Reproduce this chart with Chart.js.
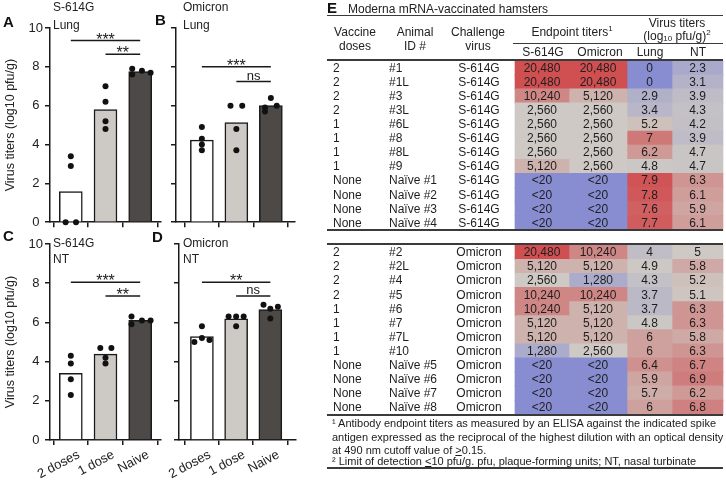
<!DOCTYPE html>
<html>
<head>
<meta charset="utf-8">
<script src="https://cdn.jsdelivr.net/npm/chart.js@4.4.1/dist/chart.umd.min.js"></script>
<style>
  body { margin: 0; width: 726px; height: 483px; position: relative; background: #fff; overflow: hidden;
         font-family: "Liberation Sans", Arial, sans-serif; color: #222; }
  canvas { position: absolute; }
  .t { position: absolute; font-size: 12px; line-height: 14px; white-space: nowrap; }
  .c { transform: translateX(-50%); text-align: center; }
  .lt { position: absolute; font-size: 15px; line-height: 16px; font-weight: bold; color: #111; }
  .rule { position: absolute; background: #3a3a3a; }
  .fn { position: absolute; left: 332px; font-size: 11px; line-height: 13px; white-space: nowrap; color: #1a1a1a; }
  .sm { font-size: 8px; position: relative; }
</style>
</head>
<body>
<canvas id="tableE" width="426" height="483" style="left:300px;top:0"></canvas>
<canvas id="chartA" width="165" height="232" style="left:0;top:0"></canvas>
<canvas id="chartB" width="140" height="232" style="left:160px;top:0"></canvas>
<canvas id="chartC" width="165" height="253" style="left:0;top:230px"></canvas>
<canvas id="chartD" width="140" height="253" style="left:160px;top:230px"></canvas>

<div class="lt" style="left:3px;top:14px">A</div>
<div class="t" style="left:53px;top:0">S-614G</div>
<div class="t" style="left:53px;top:18px">Lung</div>
<div class="lt" style="left:155px;top:12px">B</div>
<div class="t" style="left:183px;top:0">Omicron</div>
<div class="t" style="left:183px;top:18px">Lung</div>
<div class="lt" style="left:3px;top:228px">C</div>
<div class="t" style="left:53px;top:236px">S-614G</div>
<div class="t" style="left:53px;top:252px">NT</div>
<div class="lt" style="left:152px;top:229px">D</div>
<div class="t" style="left:183px;top:236px">Omicron</div>
<div class="t" style="left:183px;top:252px">NT</div>

<div class="lt" style="left:327px;top:0">E</div>
<div class="t" style="left:348px;top:2px">Moderna mRNA-vaccinated hamsters</div>
<div class="rule" style="left:327px;top:15px;width:396px;height:1px"></div>
<div class="t c" style="left:355px;top:25px">Vaccine<br>doses</div>
<div class="t c" style="left:415px;top:25px">Animal<br>ID #</div>
<div class="t c" style="left:478px;top:25px">Challenge<br>virus</div>
<div class="t c" style="left:572px;top:25px">Endpoint titers<span class="sm" style="top:-5px">1</span></div>
<div class="t c" style="left:677px;top:16px">Virus titers</div>
<div class="t c" style="left:677px;top:29px">(log<span class="sm" style="top:1px">10</span> pfu/g)<span class="sm" style="top:-5px">2</span></div>
<div class="rule" style="left:513px;top:43px;width:210px;height:1px"></div>
<div class="t c" style="left:543px;top:45px">S-614G</div>
<div class="t c" style="left:600px;top:45px">Omicron</div>
<div class="t c" style="left:650px;top:45px">Lung</div>
<div class="t c" style="left:698px;top:45px">NT</div>
<div class="rule" style="left:327px;top:59px;width:396px;height:2px"></div>
<div class="rule" style="left:327px;top:229px;width:396px;height:2px"></div>
<div class="rule" style="left:327px;top:243px;width:396px;height:2px"></div>
<div class="rule" style="left:327px;top:414px;width:396px;height:2px"></div>
<div class="fn" style="top:417px">¹ Antibody endpoint titers as measured by an ELISA against the indicated spike</div>
<div class="fn" style="top:431px">antigen expressed as the reciprocal of the highest dilution with an optical density</div>
<div class="fn" style="top:444px">at 490 nm cutoff value of <u>&gt;</u>0.15.</div>
<div class="fn" style="top:455px">² Limit of detection <u>&lt;</u>10 pfu/g. pfu, plaque-forming units; NT, nasal turbinate</div>
<div class="rule" style="left:327px;top:467px;width:396px;height:1.5px"></div>

<script>
const groups = ['2 doses', '1 dose', 'Naive'];

// table E, one entry per hamster (first 12 S-614G challenge, last 12 Omicron)
const doses = ['2', '2', '2', '2', '1', '1', '1', '1', 'None', 'None', 'None', 'None',
               '2', '2', '2', '2', '1', '1', '1', '1', 'None', 'None', 'None', 'None'];
const animalIds = ['#1', '#1L', '#3', '#3L', '#6L', '#8', '#8L', '#9', 'Naïve #1', 'Naïve #2', 'Naïve #3', 'Naïve #4',
                   '#2', '#2L', '#4', '#5', '#6', '#7', '#7L', '#10', 'Naïve #5', 'Naïve #6', 'Naïve #7', 'Naïve #8'];
const challenge = ['S-614G', 'S-614G', 'S-614G', 'S-614G', 'S-614G', 'S-614G', 'S-614G', 'S-614G', 'S-614G', 'S-614G', 'S-614G', 'S-614G',
                   'Omicron', 'Omicron', 'Omicron', 'Omicron', 'Omicron', 'Omicron', 'Omicron', 'Omicron', 'Omicron', 'Omicron', 'Omicron', 'Omicron'];
// null = below detection (<20)
const titerS614G = [20480, 20480, 10240, 2560, 2560, 2560, 2560, 5120, null, null, null, null,
                    20480, 5120, 2560, 10240, 10240, 5120, 5120, 1280, null, null, null, null];
const titerOmicron = [20480, 20480, 5120, 2560, 2560, 2560, 2560, 2560, null, null, null, null,
                      10240, 5120, 1280, 10240, 5120, 5120, 5120, 2560, null, null, null, null];
const lungTiter = [0, 0, 2.9, 3.4, 5.2, 7, 6.2, 4.8, 7.9, 7.8, 7.6, 7.7,
                   4, 4.9, 4.3, 3.7, 3.7, 4.8, 6, 6, 6.4, 5.9, 5.7, 6];
const ntTiter = [2.3, 3.1, 3.9, 4.3, 4.2, 3.9, 4.7, 4.7, 6.3, 6.1, 5.9, 6.1,
                 5, 5.8, 5.2, 5.1, 6.3, 6.3, 5.8, 6.3, 6.7, 6.9, 6.2, 6.8];

// bar heights for panels A-D
const barA = [1.58, 5.8, 7.75];
const barB = [4.23, 5.13, 6.0];
const barC = [3.4, 4.38, 6.1];
const barD = [5.28, 6.18, 6.65];

// significance bars
const sigA = [{ from: 0, to: 2, y: 9.35, text: '***' }, { from: 1, to: 2, y: 8.65, text: '**' }];
const sigB = [{ from: 0, to: 2, y: 8.0, text: '***' }, { from: 1, to: 2, y: 7.25, text: 'ns' }];
const sigC = [{ from: 0, to: 2, y: 8.05, text: '***' }, { from: 1, to: 2, y: 7.35, text: '**' }];
const sigD = [{ from: 0, to: 2, y: 8.05, text: '**' }, { from: 1, to: 2, y: 7.35, text: 'ns' }];

// horizontal spread of the dots inside each bar
const jitA = [-0.15, 0.15, 0, 0, 0, 0, 0, 0, -0.23, 0.05, -0.23, 0.3];
const jitB = [0, 0, 0, 0, 0, 0, -0.17, 0.17, 0, -0.17, -0.17, 0.17];
const jitC = [0, 0, 0, 0, 0, 0, -0.15, 0.17, -0.25, 0.05, -0.25, 0.3];
const jitD = [-0.22, 0, 0, 0.22, -0.22, 0, 0, 0.22, 0, -0.2, 0, 0.22];

const FONT = '"Liberation Sans", Arial, sans-serif';
const INK = '#1a1a1a';
const barFill = ['#ffffff', '#cdc9c4', '#4d4946'];

function bracketPlugin(items, showLabels) {
    return {
        id: 'brackets',
        afterDatasetsDraw(chart) {
            const { ctx, scales: { x, y } } = chart;
            ctx.save();
            ctx.strokeStyle = INK;
            ctx.fillStyle = INK;
            ctx.lineWidth = 1.5;
            ctx.textAlign = 'center';
            ctx.textBaseline = 'alphabetic';
            items.forEach(b => {
                const x0 = x.getPixelForValue(b.from);
                const x1 = x.getPixelForValue(b.to);
                const py = y.getPixelForValue(b.y);
                ctx.beginPath();
                ctx.moveTo(x0, py);
                ctx.lineTo(x1, py);
                ctx.stroke();
                const star = b.text[0] === '*';
                ctx.font = (star ? '16px ' : '13px ') + FONT;
                ctx.fillText(b.text, (x0 + x1) / 2, py + (star ? 4 : -1.5));
            });
            // rotated category labels, right end just past the tick
            if (showLabels) {
                ctx.fillStyle = '#222';
                ctx.font = '13px ' + FONT;
                ctx.textAlign = 'right';
                ctx.textBaseline = 'middle';
                groups.forEach((g, i) => {
                    ctx.save();
                    ctx.translate(x.getPixelForValue(i) + 8, y.bottom + 14);
                    ctx.rotate(-28 * Math.PI / 180);
                    ctx.fillText(g, 0, 0);
                    ctx.restore();
                });
            }
            ctx.restore();
        }
    };
}

function panel(id, bars, points, jitter, sig, o) {
    new Chart(document.getElementById(id), {
        type: 'bar',
        data: {
            datasets: [
                {
                    type: 'bar',
                    data: bars.map((v, i) => ({ x: i, y: v })),
                    backgroundColor: barFill,
                    borderColor: INK,
                    borderWidth: 1.5,
                    barThickness: 23,
                    order: 2
                },
                {
                    type: 'scatter',
                    data: points.map((v, i) => ({ x: Math.floor(i / 4) + jitter[i], y: v })),
                    pointRadius: 3,
                    backgroundColor: '#111',
                    borderWidth: 0,
                    clip: false,
                    order: 1
                }
            ]
        },
        options: {
            responsive: false,
            animation: false,
            events: [],
            layout: { padding: { top: o.padTop, right: o.padRight, left: 0, bottom: 0 } },
            plugins: { legend: { display: false }, tooltip: { enabled: false } },
            scales: {
                x: {
                    type: 'linear',
                    min: o.xMin,
                    max: o.xMax,
                    offset: false,
                    afterBuildTicks: s => { s.ticks = [0, 1, 2].map(v => ({ value: v })); },
                    afterFit: s => { s.height = o.xH; },
                    grid: { drawOnChartArea: false, color: INK, lineWidth: 1.5, tickLength: 5 },
                    border: { color: INK, width: 1.5 },
                    ticks: { callback: () => '', maxRotation: 0 }
                },
                y: {
                    min: 0,
                    max: 10,
                    afterFit: s => { s.width = o.yW; },
                    grid: { drawOnChartArea: false, color: INK, lineWidth: 1.5, tickLength: 5 },
                    border: { color: INK, width: 1.5 },
                    ticks: {
                        stepSize: 2,
                        callback: v => o.yLabels ? v : '',
                        crossAlign: 'center',
                        padding: 2,
                        color: '#222',
                        font: { size: 13, family: FONT }
                    },
                    title: {
                        display: o.yLabels,
                        text: 'Virus titers (log10 pfu/g)',
                        color: '#222',
                        padding: { top: 3, bottom: 0 },
                        font: { size: 12.5, family: FONT }
                    }
                }
            }
        },
        plugins: [bracketPlugin(sig, o.xLabels)]
    });
}

panel('chartA', barA, lungTiter.slice(0, 12), jitA, sigA,
    { padTop: 28, padRight: 3, xH: 6, yW: 50, xMin: -0.6, xMax: 2.6, yLabels: true, xLabels: false });
panel('chartB', barB, lungTiter.slice(12), jitB, sigB,
    { padTop: 28, padRight: 5, xH: 7, yW: 16, xMin: -0.75, xMax: 2.7, yLabels: false, xLabels: false });
panel('chartC', barC, ntTiter.slice(0, 12), jitC, sigC,
    { padTop: 14, padRight: 3, xH: 43, yW: 50, xMin: -0.6, xMax: 2.6, yLabels: true, xLabels: true });
panel('chartD', barD, ntTiter.slice(12), jitD, sigD,
    { padTop: 14, padRight: 3, xH: 43, yW: 19, xMin: -0.67, xMax: 2.75, yLabels: false, xLabels: true });

// ---- table E: heat cells as floating bars ----
const BLUE = [136, 141, 209], GRAY = [206, 201, 196], RED = [208, 80, 82];
function heat(t) {
    const to = t < 0 ? BLUE : RED;
    const a = Math.min(Math.abs(t), 1);
    return 'rgb(' + GRAY.map((g, k) => Math.round(g + (to[k] - g) * a)).join(',') + ')';
}
function titerColor(v) {
    if (v === null) return heat(-1);
    const d = Math.log2(v / 2560);
    return heat(d < 0 ? d / 2 : Math.pow(d / 3, 1.5));
}
function virusColor(v) {
    return heat(v >= 5 ? (v - 5) / 3 : (v - 5) / 5);
}
const fmtTiter = v => v === null ? '<20' : v.toLocaleString('en-US');

const rowH = 14.08, firstRow = 68;
const rowPos = animalIds.map((_, i) => i < 12 ? i : i + 1.1);
const colEdges = [515, 569, 627, 672, 723];
const heatCols = [titerS614G, titerOmicron, lungTiter, ntTiter];

const tableText = {
    id: 'tableText',
    afterDatasetsDraw(chart) {
        const { ctx, scales: { x, y } } = chart;
        ctx.save();
        ctx.font = '12px ' + FONT;
        ctx.fillStyle = '#1e1e1e';
        ctx.textBaseline = 'middle';
        rowPos.forEach((r, i) => {
            const py = y.getPixelForValue(r) + 0.5;
            ctx.textAlign = 'left';
            ctx.fillText(doses[i], x.getPixelForValue(333), py);
            ctx.fillText(animalIds[i], x.getPixelForValue(389), py);
            ctx.textAlign = 'center';
            ctx.fillText(challenge[i], x.getPixelForValue(479), py);
            heatCols.forEach((col, c) => {
                const txt = c < 2 ? fmtTiter(col[i]) : String(col[i]);
                ctx.fillText(txt, x.getPixelForValue((colEdges[c] + colEdges[c + 1]) / 2), py);
            });
        });
        ctx.restore();
    }
};

new Chart(document.getElementById('tableE'), {
    type: 'bar',
    data: {
        datasets: heatCols.map((vals, c) => ({
            data: vals.map((v, i) => ({ y: rowPos[i], x: [colEdges[c], colEdges[c + 1]] })),
            backgroundColor: vals.map(v => c < 2 ? titerColor(v) : virusColor(v)),
            borderWidth: 0,
            barThickness: 14.6,
            grouped: false
        }))
    },
    options: {
        indexAxis: 'y',
        responsive: false,
        animation: false,
        events: [],
        layout: { padding: 0 },
        plugins: { legend: { display: false }, tooltip: { enabled: false } },
        scales: {
            x: { type: 'linear', display: false, min: 300, max: 726 },
            y: { type: 'linear', display: false, reverse: true, offset: false,
                 min: -firstRow / rowH, max: (483 - firstRow) / rowH }
        }
    },
    plugins: [tableText]
});
</script>
</body>
</html>
